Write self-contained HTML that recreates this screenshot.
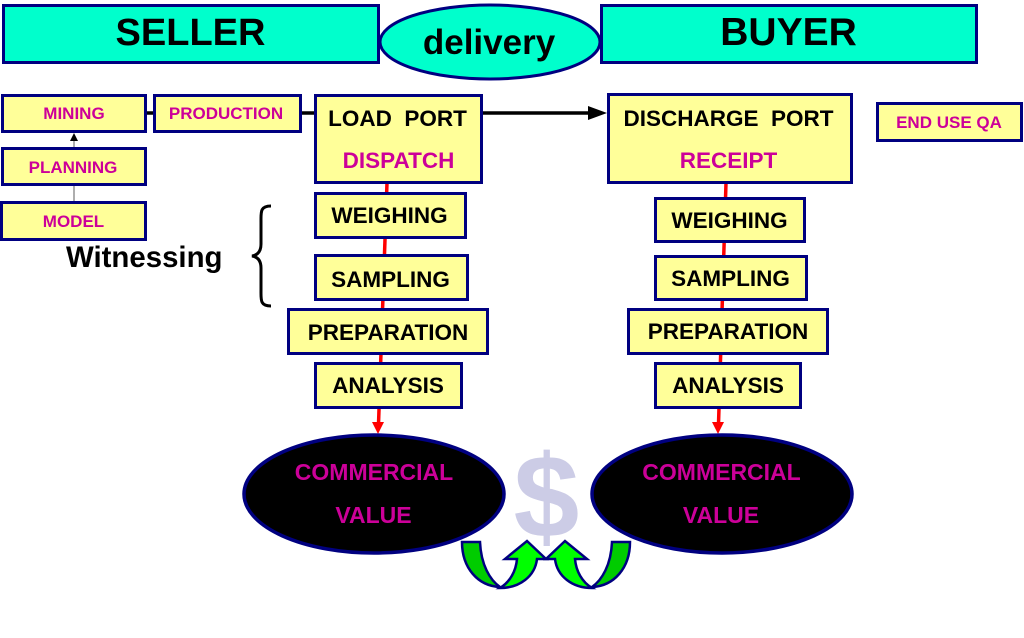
<!DOCTYPE html>
<html>
<head>
<meta charset="utf-8">
<style>
html,body{margin:0;padding:0;background:#fff;}
svg{display:block;}
text{font-family:"Liberation Sans",Arial,sans-serif;font-weight:bold;}
</style>
</head>
<body>
<svg width="1024" height="638" viewBox="0 0 1024 638" xmlns="http://www.w3.org/2000/svg">
<rect x="0" y="0" width="1024" height="638" fill="#fff"/>

<!-- header -->
<rect x="3.5" y="5.5" width="375" height="57" fill="#00FFCC" stroke="#000080" stroke-width="3"/>
<rect x="601.5" y="5.5" width="375" height="57" fill="#00FFCC" stroke="#000080" stroke-width="3"/>
<ellipse cx="490" cy="42" rx="110" ry="37" fill="#00FFCC" stroke="#000080" stroke-width="3"/>
<text x="190.5" y="45" font-size="38" text-anchor="middle" fill="#000">SELLER</text>
<text x="788.5" y="45" font-size="39" text-anchor="middle" fill="#000">BUYER</text>
<text x="489" y="54" font-size="35" text-anchor="middle" fill="#000">delivery</text>

<!-- black connectors -->
<line x1="145" y1="113" x2="155" y2="113" stroke="#000" stroke-width="3.5"/>
<line x1="300" y1="113" x2="316" y2="113" stroke="#000" stroke-width="3.5"/>
<line x1="481" y1="113" x2="592" y2="113" stroke="#000" stroke-width="3.5"/>
<polygon points="588,106 607,113 588,120" fill="#000"/>

<!-- gray arrow model->mining -->
<line x1="74" y1="139" x2="74" y2="201" stroke="#777" stroke-width="1.2"/>
<polygon points="70,141 74,133 78,141" fill="#000"/>

<!-- red vertical lines -->
<line x1="387" y1="183" x2="378.5" y2="424" stroke="#FF0000" stroke-width="3.5"/>
<polygon points="372,422 384,422 378,434" fill="#FF0000"/>
<line x1="726" y1="183" x2="718.5" y2="424" stroke="#FF0000" stroke-width="3.5"/>
<polygon points="712,422 724,422 718,434" fill="#FF0000"/>

<!-- left small boxes -->
<g fill="#FFFF99" stroke="#000080" stroke-width="3">
<rect x="2.5" y="95.5" width="143" height="36"/>
<rect x="154.5" y="95.5" width="146" height="36"/>
<rect x="2.5" y="148.5" width="143" height="36"/>
<rect x="1.5" y="202.5" width="144" height="37"/>
<rect x="315.5" y="95.5" width="166" height="87"/>
<rect x="608.5" y="94.5" width="243" height="88"/>
<rect x="877.5" y="103.5" width="144" height="37"/>
<!-- left stack -->
<rect x="315.5" y="193.5" width="150" height="44"/>
<rect x="315.5" y="255.5" width="152" height="44"/>
<rect x="288.5" y="309.5" width="199" height="44"/>
<rect x="315.5" y="363.5" width="146" height="44"/>
<!-- right stack -->
<rect x="655.5" y="198.5" width="149" height="43"/>
<rect x="655.5" y="256.5" width="151" height="43"/>
<rect x="628.5" y="309.5" width="199" height="44"/>
<rect x="655.5" y="363.5" width="145" height="44"/>
</g>

<g font-size="17" fill="#CC0099" text-anchor="middle">
<text x="74" y="119">MINING</text>
<text x="226" y="119">PRODUCTION</text>
<text x="73" y="173">PLANNING</text>
<text x="73.5" y="227">MODEL</text>
<text x="949" y="128">END USE QA</text>
</g>

<g font-size="22.5" text-anchor="middle">
<text x="397.5" y="126" fill="#000">LOAD&#160; PORT</text>
<text x="398.5" y="168" fill="#CC0099">DISPATCH</text>
<text x="728.5" y="126" fill="#000">DISCHARGE&#160; PORT</text>
<text x="728.5" y="168" fill="#CC0099">RECEIPT</text>
</g>

<g font-size="22.5" text-anchor="middle" fill="#000">
<text x="389.5" y="223">WEIGHING</text>
<text x="390.5" y="287">SAMPLING</text>
<text x="388" y="340">PREPARATION</text>
<text x="388" y="393">ANALYSIS</text>
<text x="729.5" y="228">WEIGHING</text>
<text x="730.5" y="286">SAMPLING</text>
<text x="728" y="339">PREPARATION</text>
<text x="728" y="393">ANALYSIS</text>
</g>

<!-- Witnessing & brace -->
<text x="66" y="267" font-size="29.4" fill="#000">Witnessing</text>
<path d="M271,206 C260,206 261,212 261,222 L261,244 C261,251 258,255 252,256 C258,257 261,261 261,268 L261,290 C261,300 260,306 271,306" fill="none" stroke="#000" stroke-width="3"/>

<!-- commercial value ellipses -->
<ellipse cx="374" cy="494" rx="130" ry="59" fill="#000" stroke="#000080" stroke-width="3.5"/>
<ellipse cx="722" cy="494" rx="130" ry="59" fill="#000" stroke="#000080" stroke-width="3.5"/>
<g font-size="23" fill="#CC0099" text-anchor="middle">
<text x="374" y="480">COMMERCIAL</text>
<text x="373.5" y="523">VALUE</text>
<text x="721.5" y="480">COMMERCIAL</text>
<text x="721" y="523">VALUE</text>
</g>

<!-- dollar -->
<text x="546.5" y="537" font-size="118" text-anchor="middle" fill="#CCCCE6">$</text>

<!-- green U arrows -->
<g stroke="#000080" stroke-width="2.5" stroke-linejoin="miter">
  <path d="M462,542 L480,542 C481,565 490,580 500,587 C478,586 462,568 462,542 Z" fill="#00CC00"/>
  <path d="M500,588 C510,582 516,571 517,559 L505,559 L527,541 L546,559 L537,559 C535,576 520,588 500,588 Z" fill="#00FF00"/>
  <g transform="translate(1092,0) scale(-1,1)">
    <path d="M462,542 L480,542 C481,565 490,580 500,587 C478,586 462,568 462,542 Z" fill="#00CC00"/>
    <path d="M500,588 C510,582 516,571 517,559 L505,559 L527,541 L546,559 L537,559 C535,576 520,588 500,588 Z" fill="#00FF00"/>
  </g>
</g>
</svg>
</body>
</html>
